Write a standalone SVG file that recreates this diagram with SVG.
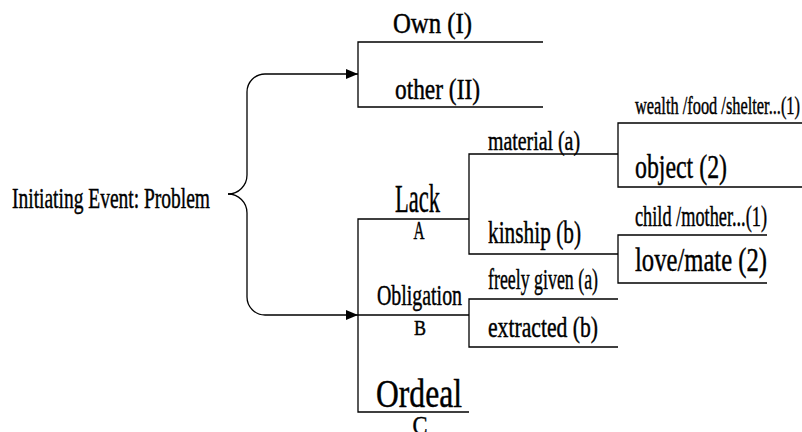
<svg xmlns="http://www.w3.org/2000/svg" width="802" height="432" viewBox="0 0 802 432">
<style>
text{font-family:"Liberation Serif","Times New Roman",serif;fill:#000;stroke:#000;stroke-width:0.45}
.c{fill:none;stroke:#000;stroke-width:1.3}
.m{text-anchor:middle}
</style>
<defs>
<marker id="arr" viewBox="0 0 12 10" refX="12" refY="5" markerWidth="12" markerHeight="10" markerUnits="userSpaceOnUse" orient="auto">
<path d="M0,0 L12,5 L0,10 Z" fill="#000"/>
</marker>
</defs>
<rect width="802" height="432" fill="#fff"/>
<g id="connectors">
<path class="c" d="M228,194 A19,19 0 0 0 247,175 V92 A18,18 0 0 1 265,74 H358" marker-end="url(#arr)"/>
<path class="c" d="M228,194 A19,19 0 0 1 247,213 V297 A18,18 0 0 0 265,315 H358" marker-end="url(#arr)"/>
<path class="c" d="M543,42 H358 V107 H543"/>
<path class="c" d="M469,219 H358 V412 H469 M358,315 H469"/>
<path class="c" d="M618,154 H469 V254 H618"/>
<path class="c" d="M618,299 H469 V347 H618"/>
<path class="c" d="M802,123 H618 V187 H802"/>
<path class="c" d="M767,235 H618 V283 H767"/>
</g>
<g id="node-problem"><text x="12" y="208" font-size="29" textLength="198" lengthAdjust="spacingAndGlyphs">Initiating Event: Problem</text></g>
<g id="node-own"><text x="393" y="33" font-size="29" textLength="79" lengthAdjust="spacingAndGlyphs">Own (I)</text></g>
<g id="node-other"><text x="395" y="99" font-size="29" textLength="85" lengthAdjust="spacingAndGlyphs">other (II)</text></g>
<g id="node-lack">
<text x="395" y="212" font-size="39" textLength="45" lengthAdjust="spacingAndGlyphs">Lack</text>
<text class="m" x="419" y="239" font-size="25" textLength="11" lengthAdjust="spacingAndGlyphs">A</text>
</g>
<g id="node-obligation">
<text x="377" y="305" font-size="29" textLength="85" lengthAdjust="spacingAndGlyphs">Obligation</text>
<text class="m" x="420" y="335" font-size="22" textLength="12" lengthAdjust="spacingAndGlyphs">B</text>
</g>
<g id="node-ordeal">
<text x="376" y="407" font-size="40" textLength="86" lengthAdjust="spacingAndGlyphs">Ordeal</text>
<text class="m" x="420" y="434" font-size="26" textLength="15" lengthAdjust="spacingAndGlyphs">C</text>
</g>
<g id="node-material"><text x="488" y="150" font-size="27" textLength="92" lengthAdjust="spacingAndGlyphs">material (a)</text></g>
<g id="node-kinship"><text x="488" y="243" font-size="31" textLength="93" lengthAdjust="spacingAndGlyphs">kinship (b)</text></g>
<g id="node-freely"><text x="488" y="289" font-size="29" textLength="110" lengthAdjust="spacingAndGlyphs">freely given (a)</text></g>
<g id="node-extracted"><text x="488" y="337" font-size="30" textLength="110" lengthAdjust="spacingAndGlyphs">extracted (b)</text></g>
<g id="node-wealth"><text x="635" y="114" font-size="25" textLength="165" lengthAdjust="spacingAndGlyphs">wealth /food /shelter...(1)</text></g>
<g id="node-object"><text x="635" y="178" font-size="34" textLength="92" lengthAdjust="spacingAndGlyphs">object (2)</text></g>
<g id="node-child"><text x="635" y="226" font-size="29" textLength="132" lengthAdjust="spacingAndGlyphs">child /mother...(1)</text></g>
<g id="node-love"><text x="635" y="271" font-size="34" textLength="132" lengthAdjust="spacingAndGlyphs">love/mate (2)</text></g>
</svg>
